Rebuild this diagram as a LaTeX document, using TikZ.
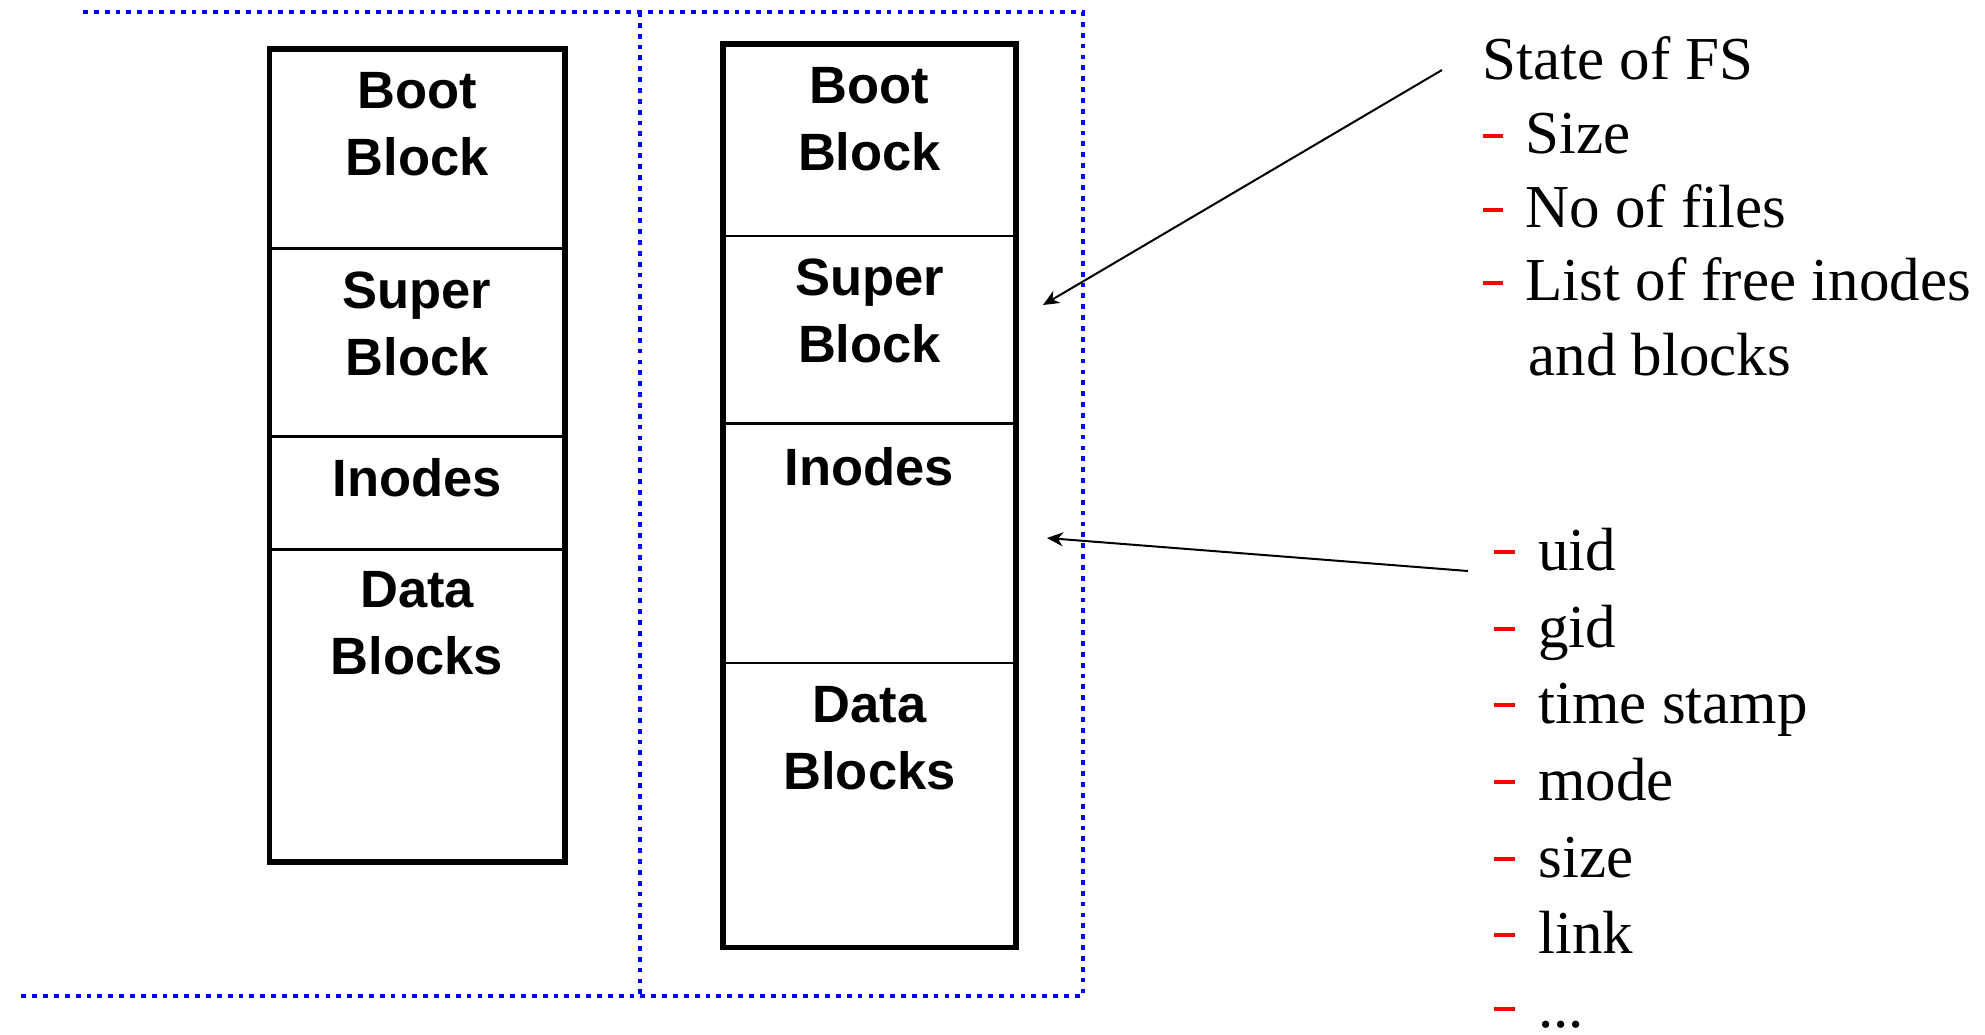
\documentclass[tikz,border=0pt]{standalone}
\usepackage{fontspec}
\setmainfont{Liberation Serif}
\newfontfamily\arialfont{Liberation Sans}
\usetikzlibrary{arrows.meta}
\newcommand\dashA{\makebox[21pt][l]{\textcolor{red}{\rule[7.3pt]{9.9pt}{2.4pt}}}}
\newcommand\dashB{\makebox[22pt][l]{\textcolor{red}{\rule[7.8pt]{10.1pt}{2.4pt}}}}
\begin{document}
\begin{tikzpicture}[x=0.5pt,y=-0.5pt,
  frame/.style={blue, line width=2.4pt, dash pattern=on 2.4pt off 3.03pt},
  outer/.style={line width=2.75pt},
  divider/.style={line width=1.35pt},
  lbl/.style={font=\arialfont\bfseries\fontsize{26.25}{33.5}\selectfont, align=center, anchor=north, inner sep=0pt},
  item/.style={font=\fontsize{30.5}{37}\selectfont, anchor=base west, inner sep=0pt},
  arr/.style={line width=1pt, -{Stealth[length=8pt,width=7pt,inset=2.5pt]}}]
\useasboundingbox (0,0) rectangle (1985,1034);

% dotted frames
\draw[frame] (83,12) -- (1083,12) -- (1083,996) -- (17,996);
\draw[frame] (640,12) -- (640,996);

% left disk layout
\draw[divider] (269.5,248.3) -- (565,248.3);
\draw[divider] (269.5,436.4) -- (565,436.4);
\draw[divider] (269.5,549.7) -- (565,549.7);
\draw[outer] (269.5,48.8) rectangle (565,862);
\node[lbl] (lboot)   at (417,72)  {Boot\\Block};
\node[lbl] (lsuper)  at (417,271) {Super\\Block};
\node[lbl] (linodes) at (417,458) {Inodes};
\node[lbl] (ldata)   at (417,571) {Data\\Blocks};

% right disk layout
\draw[divider] (723,236) -- (1016,236);
\draw[divider] (723,423.7) -- (1016,423.7);
\draw[divider] (723,662.9) -- (1016,662.9);
\draw[outer] (723,44) rectangle (1016,947.5);
\node[lbl] (rboot)   at (869.5,67)  {Boot\\Block};
\node[lbl] (rsuper)  at (869.5,258) {Super\\Block};
\node[lbl] (rinodes) at (869.5,447) {Inodes};
\node[lbl] (rdata)   at (869.5,686) {Data\\Blocks};

% state of FS list
\node[item] (state) at (1482,79)  {State of FS};
\node[item] (isize) at (1483,153) {\dashA Size};
\node[item] (inof)  at (1483,227) {\dashA No of files};
\node[item] (ilist) at (1483,300) {\dashA List of free inodes};
\node[item] (iand)  at (1483,375) {\hspace{22.5pt}and blocks};

% inode list
\node[item] (iuid)  at (1494,570)  {\dashB uid};
\node[item] (igid)  at (1494,647)  {\dashB gid};
\node[item] (itime) at (1494,723)  {\dashB time stamp};
\node[item] (imode) at (1494,800)  {\dashB mode};
\node[item] (isz)   at (1494,877)  {\dashB size};
\node[item] (ilink) at (1494,953)  {\dashB link};
\node[item] (idots) at (1494,1027) {\dashB ...};

% arrows
\coordinate (a1s) at (1442,70);
\coordinate (a1e) at (1043,305);
\coordinate (a2s) at (1468,571);
\coordinate (a2e) at (1047,538);
\draw[arr] (a1s) -- (a1e);
\draw[arr] (a2s) -- (a2e);
\end{tikzpicture}
\end{document}
